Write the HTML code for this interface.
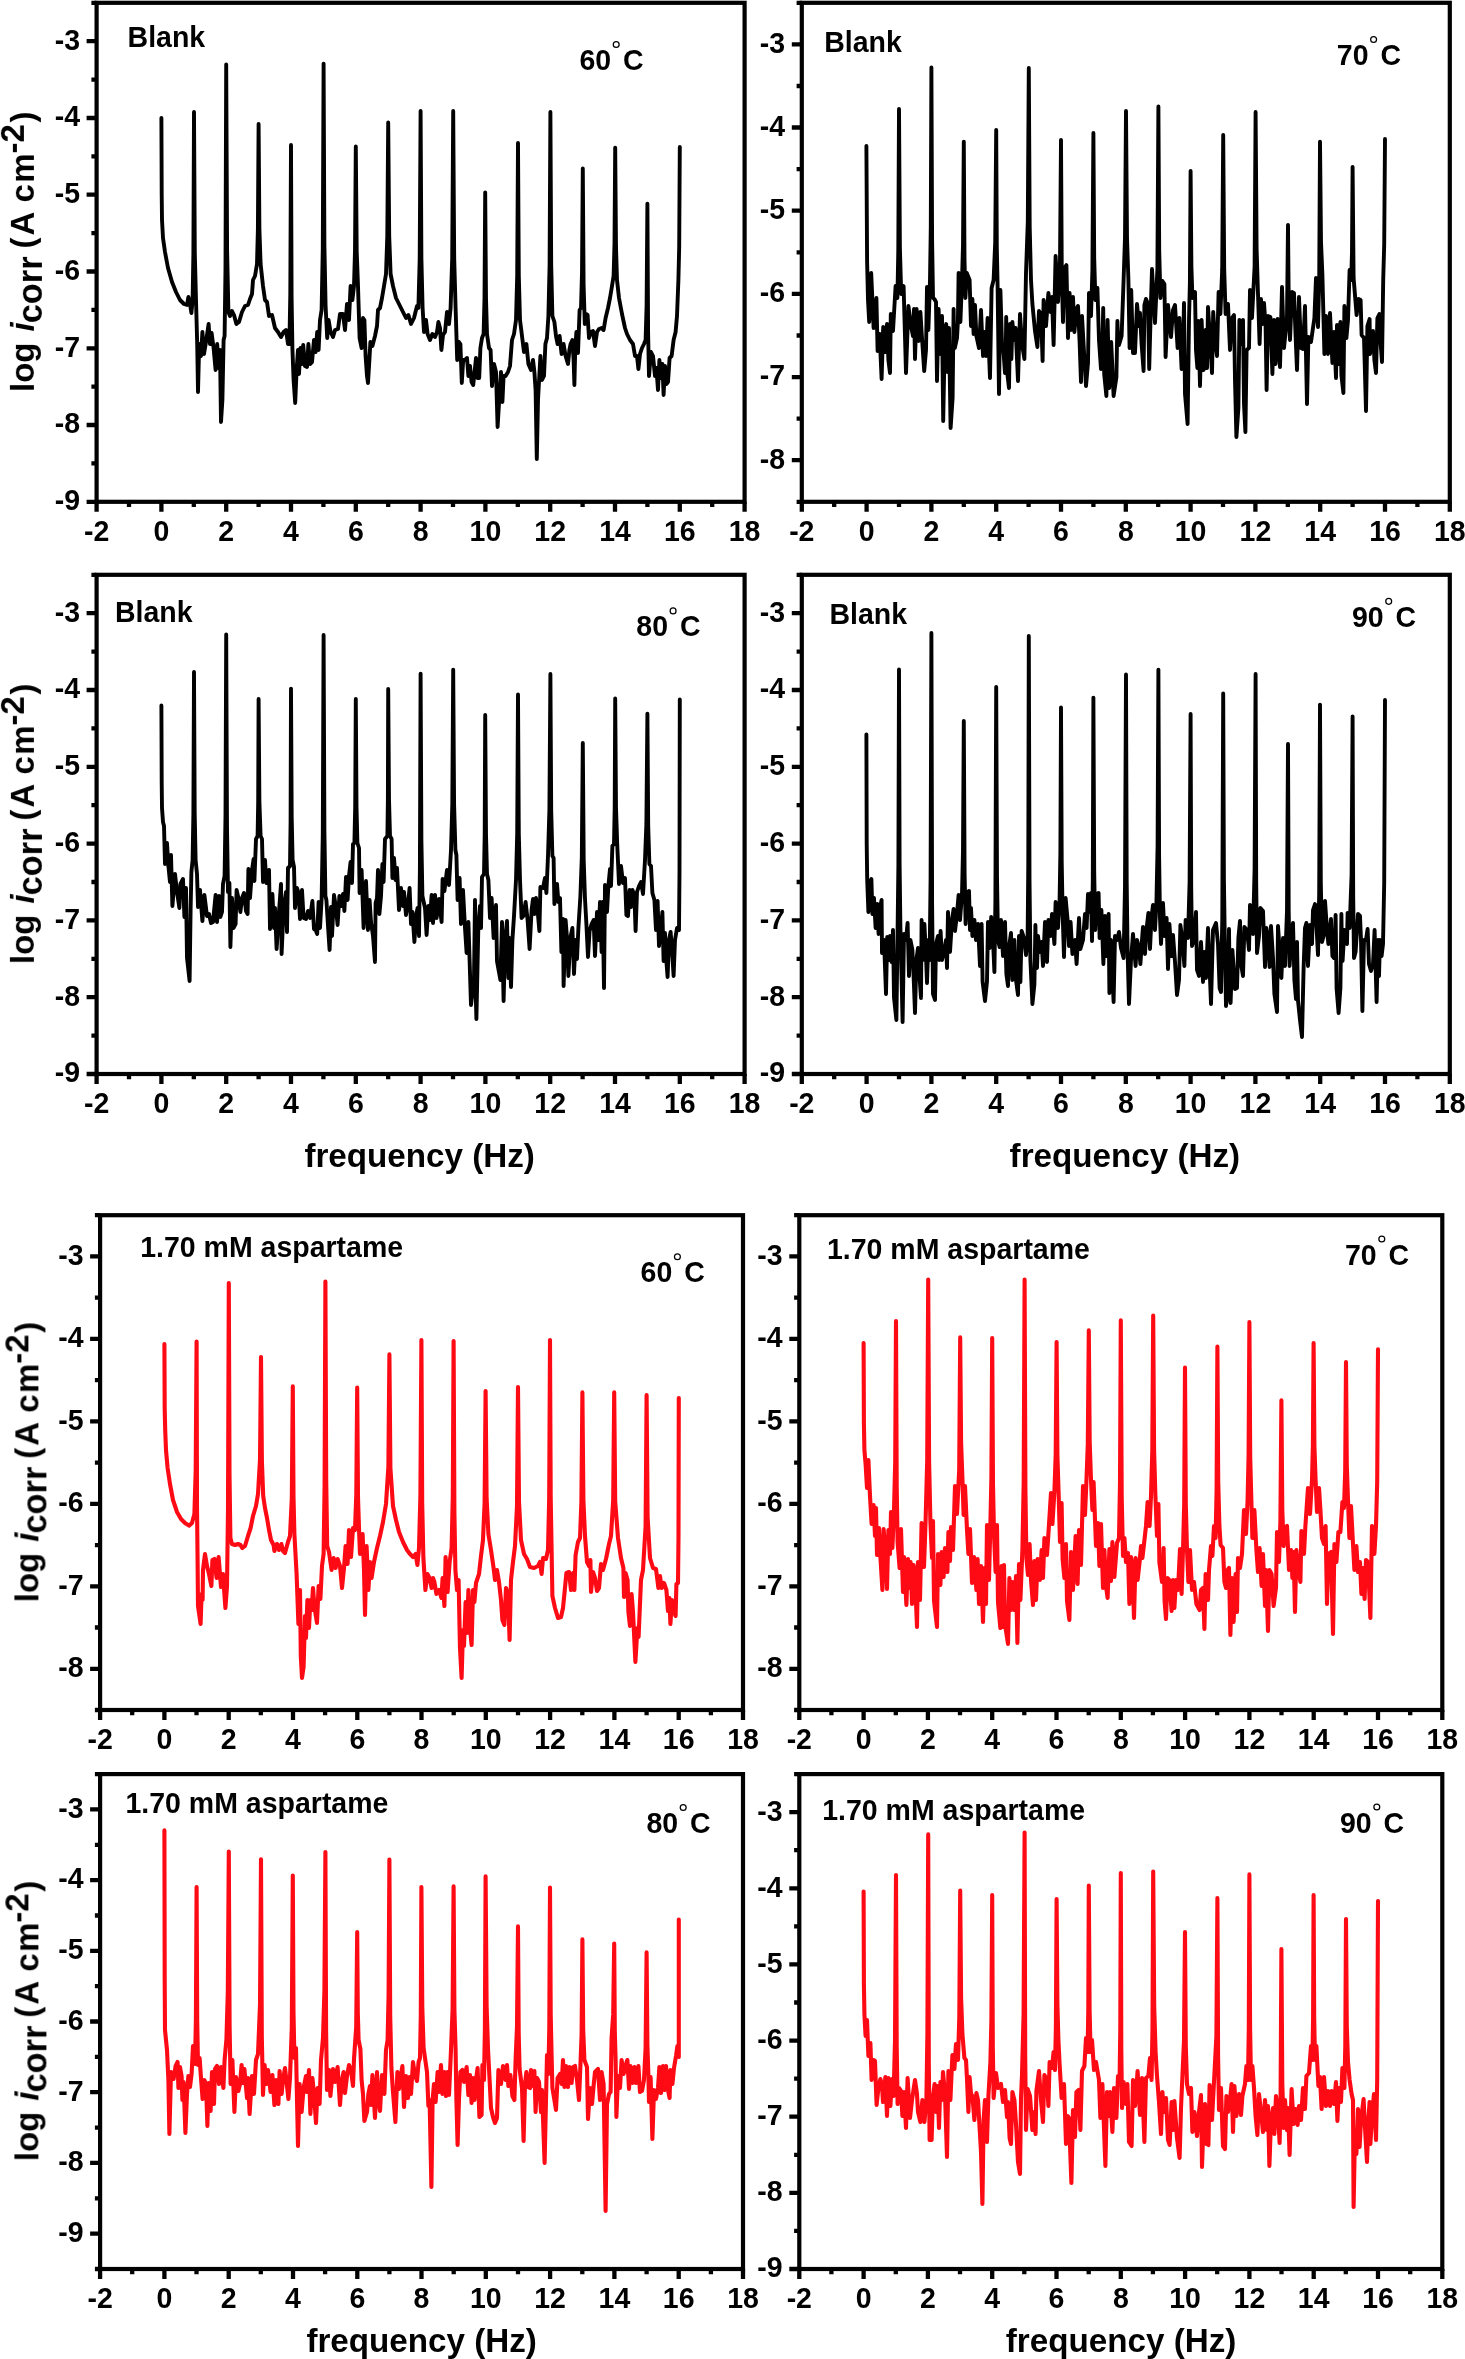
<!DOCTYPE html>
<html><head><meta charset="utf-8"><title>chart</title><style>html,body{margin:0;padding:0;background:#fff}body{width:1465px;height:2359px;overflow:hidden}</style></head><body>
<svg width="1465" height="2359" viewBox="0 0 1465 2359" style="display:block" font-family='"Liberation Sans", sans-serif' font-weight="700" fill="#000">
<rect x="0" y="0" width="1465" height="2359" fill="#fff"/>
<g opacity="0.999"><path d="M161.4,118 L161.7,194.5 L162,220 L163,238 L165,252 L168,268 L172,282 L176,292 L180,300 L184,304 L187,305 L188.4,297 L190,304 L191.4,313 L192.6,300 L193.4,253 L194,112 L194.8,253 L196,300 L197.2,344 L198,392 L199.2,344 L201,356 L202.4,332 L204,354 L206,342 L208.6,324 L210,344 L211.6,333 L213.6,348 L215.6,370 L217.2,344 L218.6,368 L220,350 L221,422 L222.4,400 L223.6,340 L224.6,336 L225.5,268.1 L226.2,64.4 L227.1,250.1 L228.4,312 L230,316 L232,311 L234,315 L236.4,324 L239,322 L242,312 L245,306 L248,305 L250,299 L252,294 L253,280 L255,276 L257,264 L257.9,229 L258.6,124 L259.4,229 L260.6,264 L263,286 L265,300 L267,302 L269,316 L272,315 L275,328 L278,332 L281,337 L283.6,332 L286,330 L288,344 L289.4,344 L290.3,294.2 L291,145 L291.6,297.2 L292.4,348 L293.6,380 L295.2,403 L296.6,370 L298,350 L299,374 L300.4,348 L302,364 L303.2,345 L305,366 L307,367 L308.4,344 L310,364 L312,362 L314,340 L315.6,352 L317.2,332 L318.6,350 L320,320 L321.6,310 L322.8,248.4 L323.6,63.6 L324.4,245.4 L325.6,306 L327.2,338 L328.6,320 L330.6,332 L333,337 L335,330 L338,329 L340,314 L343,314 L345,330 L347,304 L349,320 L350.6,286 L352.4,300 L354,286 L355,251.1 L355.8,146.4 L356.7,251.1 L358,286 L359.6,338 L361.6,348 L363,318 L364.4,320 L365.6,356 L367,376 L368,383 L369.4,360 L370.4,342 L372.4,346 L375,336 L377,326 L378,310 L380,308 L382,298 L384,286 L386,274 L387.3,236.1 L388.2,122.4 L389.2,236.1 L390.6,274 L393,286 L396,298 L400,306 L403,312 L406,318 L408.4,315 L411,324 L414,318 L417,306 L418.4,308 L419.7,258.8 L420.6,111 L421.4,258.8 L422.6,308 L424,332 L426,320 L427.6,334 L430,340 L432.4,334 L435,337 L437,332 L438.4,322 L440,328 L441.4,350 L443,335 L445,332 L447,312 L449,324 L450.6,308 L452.2,258.8 L453.2,111 L454.2,258.8 L455.6,308 L457.2,360 L459,342 L460.4,344 L461.8,383 L463.2,360 L465,360 L467,358 L468.4,376 L470,366 L471.6,382 L473.2,385 L474.6,372 L476,358 L477.6,378 L479.2,378 L480.4,348 L482,338 L483.6,334 L484.5,298.6 L485.2,192.4 L486,298.6 L487,334 L489,348 L490.6,350 L492,386 L494,364 L496,372 L497.6,427 L499.2,400 L501,372 L502.4,402 L503.6,376 L505.6,376 L508,372 L510,366 L512,340 L514,334 L516,320 L517.2,275.8 L518,143 L518.8,275.8 L520,320 L522,336 L524,352 L526.4,344 L528.4,364 L531,370 L533,360 L534.4,372 L535.6,390 L536.8,459 L538,400 L539.2,378 L540.4,356 L542,380 L544,376 L545.4,344 L547,338 L548.4,316 L549.6,265 L550.4,112 L551.2,265 L552.4,316 L554.4,322 L556,336 L557.6,344 L559.6,336 L561.6,354 L563.6,344 L565.6,356 L568,364 L569.4,350 L570.6,344 L572.4,340 L573.6,360 L574.4,385 L575.2,350 L576.4,332 L578,353 L579.6,310 L581,308 L582,273.1 L582.8,168.4 L583.6,285.1 L584.8,324 L586,314 L587.6,315 L589,338 L591,332 L593,331 L595,346 L597,332 L599,329 L601.6,328 L603.6,330 L605.6,318 L608,308 L610,298 L612,286 L613.6,276 L614.5,243.9 L615.2,147.6 L616,246.9 L617,280 L619,298 L622,314 L625,328 L627,334 L630,340 L633,344 L635,356 L637,356 L638.4,369 L640,354 L642,348 L644,344 L645.6,340 L646.6,305.9 L647.4,203.6 L648.1,332.9 L649,376 L651,352 L653,356 L655,376 L656.4,368 L658,390 L659.4,360 L661,378 L662.4,364 L663.6,395 L665,366 L666.6,384 L668,382 L669.6,358 L671.6,356 L673.6,340 L675.6,332 L677,316 L678.4,280 L679.2,246.8 L679.8,147" fill="none" stroke="#000" stroke-width="3.9" stroke-linejoin="round" stroke-linecap="round"/><rect x="96.6" y="2.8" width="648" height="499" fill="none" stroke="#000" stroke-width="4.2"/><path d="M96.6,501.8v10.0M129,501.8v5.2M161.4,501.8v10.0M193.8,501.8v5.2M226.2,501.8v10.0M258.6,501.8v5.2M291,501.8v10.0M323.4,501.8v5.2M355.8,501.8v10.0M388.2,501.8v5.2M420.6,501.8v10.0M453,501.8v5.2M485.4,501.8v10.0M517.8,501.8v5.2M550.2,501.8v10.0M582.6,501.8v5.2M615,501.8v10.0M647.4,501.8v5.2M679.8,501.8v10.0M712.2,501.8v5.2M744.6,501.8v10.0M96.6,2.8h-5.2M96.6,41.2h-10.0M96.6,79.6h-5.2M96.6,118h-10.0M96.6,156.3h-5.2M96.6,194.7h-10.0M96.6,233.1h-5.2M96.6,271.5h-10.0M96.6,309.9h-5.2M96.6,348.3h-10.0M96.6,386.6h-5.2M96.6,425h-10.0M96.6,463.4h-5.2M96.6,501.8h-10.0" stroke="#000" stroke-width="4.3" fill="none"/><text transform="translate(96.6,541) scale(1,1.045)" font-size="28.5" text-anchor="middle">-2</text><text transform="translate(161.4,541) scale(1,1.045)" font-size="28.5" text-anchor="middle">0</text><text transform="translate(226.2,541) scale(1,1.045)" font-size="28.5" text-anchor="middle">2</text><text transform="translate(291,541) scale(1,1.045)" font-size="28.5" text-anchor="middle">4</text><text transform="translate(355.8,541) scale(1,1.045)" font-size="28.5" text-anchor="middle">6</text><text transform="translate(420.6,541) scale(1,1.045)" font-size="28.5" text-anchor="middle">8</text><text transform="translate(485.4,541) scale(1,1.045)" font-size="28.5" text-anchor="middle">10</text><text transform="translate(550.2,541) scale(1,1.045)" font-size="28.5" text-anchor="middle">12</text><text transform="translate(615,541) scale(1,1.045)" font-size="28.5" text-anchor="middle">14</text><text transform="translate(679.8,541) scale(1,1.045)" font-size="28.5" text-anchor="middle">16</text><text transform="translate(744.6,541) scale(1,1.045)" font-size="28.5" text-anchor="middle">18</text><text transform="translate(80,49.5) scale(1,1.045)" font-size="28.5" text-anchor="end">-3</text><text transform="translate(80,126.3) scale(1,1.045)" font-size="28.5" text-anchor="end">-4</text><text transform="translate(80,203) scale(1,1.045)" font-size="28.5" text-anchor="end">-5</text><text transform="translate(80,279.8) scale(1,1.045)" font-size="28.5" text-anchor="end">-6</text><text transform="translate(80,356.6) scale(1,1.045)" font-size="28.5" text-anchor="end">-7</text><text transform="translate(80,433.3) scale(1,1.045)" font-size="28.5" text-anchor="end">-8</text><text transform="translate(80,510.1) scale(1,1.045)" font-size="28.5" text-anchor="end">-9</text><text transform="translate(127.6,46.5) scale(1,1.03)" font-size="28.5">Blank</text><text transform="translate(579.4,70) scale(1,1.045)" font-size="28.5">60</text><circle cx="616.2" cy="44.5" r="2.95" fill="none" stroke="#000" stroke-width="1.25"/><text transform="translate(623,70) scale(1,1.045)" font-size="28.5">C</text><g transform="translate(33.9,392) rotate(-90)"><text x="0" y="0" font-size="33">log</text><text x="60.6" y="0" font-size="33" font-style="italic">i</text><text x="68.7" y="7.7" font-size="34.4">corr</text><text x="143.6" y="0" font-size="33">(</text><text x="156.4" y="0" font-size="33">A</text><text x="189.6" y="0" font-size="33">c</text><text x="209.3" y="0" font-size="33">m</text><text x="238.6" y="-10" font-size="33">-2</text><text x="269.4" y="0" font-size="33">)</text></g></g>
<g opacity="0.999"><path d="M866.4,146 L867.1,261.5 L868,300 L869.2,322 L871.2,273 L873.6,328 L876.4,298 L877.6,351 L879.6,334 L881.6,379 L883.2,327 L885.6,352 L887,324 L888.4,360 L890,373 L890.8,314 L893,331 L895.6,286 L897.4,298 L898.3,250.8 L899,109 L899.9,247.8 L901.2,294 L903.6,286 L906,373 L908.4,306 L911,326 L913,336 L914,309 L915,359 L916.6,309 L918.6,341 L920.4,312 L922,338 L924.2,371 L926,350 L927,287 L927.6,319.2 L928.4,330 L930,280 L930.8,226.8 L931.4,67.4 L932.1,240.3 L933,298 L934.4,299 L936,302 L937,381 L938.6,309 L940.4,354 L942,316 L943.2,421 L945,328 L946.2,324 L947.6,372 L949,328 L950.6,428 L952.6,398.2 L953.6,309 L954.1,338.2 L954.8,348 L957,338 L957.9,321.8 L958.6,273 L959.4,309.8 L960.4,322 L962,280 L963,245.4 L963.8,141.6 L964.5,258.9 L965.4,298 L966.8,273 L969.6,280 L971,326 L972.4,299 L973.6,334 L975,305 L976.4,336 L979,348 L981,310 L983,356 L984.4,332 L986,356 L987.6,318 L990,378 L991.6,288 L993.6,280 L995.2,242.5 L996.2,130 L996.8,247 L997.6,286 L999,394 L1000.4,290 L1002,344 L1003.6,353 L1005,373 L1005.7,359 L1006.2,317 L1006.8,361.2 L1007.6,376 L1009,388 L1010,324 L1011.4,359 L1012.4,322 L1014,340 L1015.6,328 L1018,381 L1020,314 L1022,344 L1024.4,359 L1026,273 L1027.8,221.8 L1028.8,68 L1029.7,227 L1031,280 L1032.4,304 L1035,331 L1037.4,347 L1039,311 L1041,314 L1042.6,361 L1043.6,300 L1046,326 L1048.4,293 L1050.6,312 L1052,297 L1053.6,345 L1055.6,256 L1058,302 L1060,261.5 L1061,140 L1061.8,276.5 L1063,322 L1064.4,268 L1066.4,265 L1068,338 L1069.6,293 L1071,330 L1073,297 L1074.4,332 L1076.4,309 L1078,306 L1079.6,342 L1081,382 L1082,316 L1084,352 L1086,386 L1088,362.8 L1089,293 L1089.8,310.2 L1091,316 L1092.4,270.2 L1093.4,133 L1094.2,258.2 L1095.4,300 L1097.4,288 L1099,340 L1101,369 L1102.3,353.8 L1103.2,308 L1104.2,374 L1106.4,396 L1107.6,320 L1109.2,388 L1111.2,342 L1113.6,396 L1116.4,377.2 L1117.4,321 L1118.1,339 L1119,345 L1121.6,336 L1123.6,280 L1125,237.8 L1126,111 L1127,237.8 L1128.4,280 L1129.6,348 L1131.2,290 L1133,353 L1135,353 L1137,304 L1139,326 L1140,313 L1141.6,344 L1143.6,371 L1144.4,305 L1146,299 L1148,304 L1149.2,369 L1151,302 L1152,269 L1155,323 L1157.4,268.9 L1158.4,106.4 L1159.2,250.1 L1160.4,298 L1162.4,281 L1164.4,284 L1165.6,357 L1168,305 L1171,337 L1173,310 L1175,305 L1177.6,348 L1179.4,318 L1181.6,369 L1183,352.5 L1184,303 L1185,393.8 L1187.6,424 L1189,320 L1189.9,282.8 L1190.6,171 L1191.4,266.2 L1192.4,298 L1195,292 L1196,350 L1197.4,368 L1198.4,321 L1200,386 L1201.6,320 L1203.6,370 L1205.6,330 L1207,368 L1208,307 L1209.6,332 L1212,373 L1213.2,312 L1215,340 L1217,356 L1218.6,292 L1220.4,314 L1222.2,269.2 L1223.2,135 L1224.2,269.2 L1225.6,314 L1228,304 L1230,350 L1232,318 L1234,315 L1235,380 L1236.4,437 L1238.4,407.8 L1239.4,320 L1240.1,338 L1241,344 L1242.2,338 L1243,320 L1244,404 L1245.4,432 L1246.6,350 L1249,348 L1250,290 L1252,318 L1254.6,266.5 L1255.6,112 L1256.6,248.5 L1258,294 L1259.6,344 L1261,299 L1262.4,324 L1264,303 L1265.6,326 L1266.6,390 L1268,316 L1270.4,317 L1272.4,374 L1274,320 L1275.6,364 L1277.6,319 L1280,367 L1282,287 L1284,348 L1287,317.2 L1288,225 L1288.8,311.2 L1290,340 L1292,292 L1294,293 L1295.6,336 L1297,370 L1299,297 L1301,348 L1303,349 L1305,306 L1307,404 L1308.4,337 L1311,342 L1314.4,318 L1316,278 L1318,327 L1319.2,280.6 L1320,141.6 L1321,241.7 L1322.4,275 L1324.4,354 L1326,316 L1328,354 L1330,313 L1332.4,363 L1334,332 L1336,378 L1337,325 L1339,364 L1339.8,353.5 L1340.4,322 L1341.4,375.2 L1343.4,393 L1344.4,306 L1346.4,338 L1348,320 L1349.6,270 L1351.2,280 L1352,251.8 L1352.6,167 L1353.6,278 L1356.6,315 L1358.6,299 L1360.6,300 L1361.6,335 L1364,338 L1366,411 L1367.4,326 L1369.6,319 L1370,354 L1373,331 L1374.4,360 L1376,373 L1377.4,318 L1379.4,314 L1380.4,340 L1382,362 L1383.2,280 L1384.2,244.8 L1385,139" fill="none" stroke="#000" stroke-width="3.9" stroke-linejoin="round" stroke-linecap="round"/><rect x="801.8" y="2.8" width="648" height="499" fill="none" stroke="#000" stroke-width="4.2"/><path d="M801.8,501.8v10.0M834.2,501.8v5.2M866.6,501.8v10.0M899,501.8v5.2M931.4,501.8v10.0M963.8,501.8v5.2M996.2,501.8v10.0M1028.6,501.8v5.2M1061,501.8v10.0M1093.4,501.8v5.2M1125.8,501.8v10.0M1158.2,501.8v5.2M1190.6,501.8v10.0M1223,501.8v5.2M1255.4,501.8v10.0M1287.8,501.8v5.2M1320.2,501.8v10.0M1352.6,501.8v5.2M1385,501.8v10.0M1417.4,501.8v5.2M1449.8,501.8v10.0M801.8,2.8h-5.2M801.8,44.4h-10.0M801.8,86h-5.2M801.8,127.5h-10.0M801.8,169.1h-5.2M801.8,210.7h-10.0M801.8,252.3h-5.2M801.8,293.9h-10.0M801.8,335.5h-5.2M801.8,377.1h-10.0M801.8,418.6h-5.2M801.8,460.2h-10.0M801.8,501.8h-5.2" stroke="#000" stroke-width="4.3" fill="none"/><text transform="translate(801.8,541) scale(1,1.045)" font-size="28.5" text-anchor="middle">-2</text><text transform="translate(866.6,541) scale(1,1.045)" font-size="28.5" text-anchor="middle">0</text><text transform="translate(931.4,541) scale(1,1.045)" font-size="28.5" text-anchor="middle">2</text><text transform="translate(996.2,541) scale(1,1.045)" font-size="28.5" text-anchor="middle">4</text><text transform="translate(1061,541) scale(1,1.045)" font-size="28.5" text-anchor="middle">6</text><text transform="translate(1125.8,541) scale(1,1.045)" font-size="28.5" text-anchor="middle">8</text><text transform="translate(1190.6,541) scale(1,1.045)" font-size="28.5" text-anchor="middle">10</text><text transform="translate(1255.4,541) scale(1,1.045)" font-size="28.5" text-anchor="middle">12</text><text transform="translate(1320.2,541) scale(1,1.045)" font-size="28.5" text-anchor="middle">14</text><text transform="translate(1385,541) scale(1,1.045)" font-size="28.5" text-anchor="middle">16</text><text transform="translate(1449.8,541) scale(1,1.045)" font-size="28.5" text-anchor="middle">18</text><text transform="translate(785.2,52.7) scale(1,1.045)" font-size="28.5" text-anchor="end">-3</text><text transform="translate(785.2,135.8) scale(1,1.045)" font-size="28.5" text-anchor="end">-4</text><text transform="translate(785.2,219) scale(1,1.045)" font-size="28.5" text-anchor="end">-5</text><text transform="translate(785.2,302.2) scale(1,1.045)" font-size="28.5" text-anchor="end">-6</text><text transform="translate(785.2,385.4) scale(1,1.045)" font-size="28.5" text-anchor="end">-7</text><text transform="translate(785.2,468.5) scale(1,1.045)" font-size="28.5" text-anchor="end">-8</text><text transform="translate(824.2,52) scale(1,1.03)" font-size="28.5">Blank</text><text transform="translate(1336.8,65) scale(1,1.045)" font-size="28.5">70</text><circle cx="1373.6" cy="39.5" r="2.95" fill="none" stroke="#000" stroke-width="1.25"/><text transform="translate(1380.4,65) scale(1,1.045)" font-size="28.5">C</text></g>
<g opacity="0.999"><path d="M161.4,705.4 L161.7,782.4 L162,808 L163,822 L164,826 L165,864 L167,843 L168.4,866 L170,882 L171,855 L172.4,906 L175,874 L177,892 L179.4,908 L180.4,884 L183,879 L184.4,917 L185.3,909.8 L186,888 L187,957.8 L189.6,981 L190.6,910 L191.4,872 L192.6,860 L193.4,813 L194,672 L194.7,813 L195.6,860 L197,874 L198,907 L200,890 L202.4,921 L204.4,895 L207,916 L209,914 L211,923 L213,922 L215.6,895 L217,922 L219,896 L220.4,917 L222,912 L223,884 L224.6,876 L225.5,815.6 L226.2,634.4 L227,827.6 L228,892 L229.4,883 L230.4,947 L232,898 L233.6,928 L235.6,924 L236.6,890 L238.4,898 L240.4,912 L242,898 L244,893 L246,911 L247.6,914 L248.4,869 L250,898 L252,870 L253.6,859 L254.4,881 L256,839 L257.6,836 L258.2,801.8 L258.6,699 L259.4,801.8 L260.6,836 L262,839 L263,882 L265,860 L266.4,883 L269,870 L270,929 L272.4,894 L274,928 L275,908 L276.6,949 L279,912 L281,884 L281.6,954 L283.6,908 L286,892 L287,932 L288,868 L290,866 L290.6,821.6 L291,688.6 L291.7,817.1 L292.6,860 L294,867 L295,908 L297,888 L298.6,893 L300,919 L302,890 L303.6,918 L306,919 L308,911 L310,918 L312.4,901 L314,929 L315.6,930 L317.2,934 L318.6,902 L320,928 L321.6,900 L322.8,833.8 L323.6,635 L324.4,830.8 L325.4,896 L326.4,900 L328,926 L329.6,950 L331,907 L332,936 L334,895 L336,908 L337.6,925 L339.4,896 L341.4,906 L343,894 L344.4,911 L346,877 L347.6,900 L349,876 L350.6,862 L352,883 L353,844 L354.4,843 L355.2,807 L355.8,699 L356.5,807 L357.4,843 L359,848 L359.6,893 L361.6,870 L363.6,928 L366,881 L368,930 L369.6,900 L371,922 L373,936 L375,962 L375.6,903 L377,898 L378,870 L379.4,914 L381,896 L382.4,864 L383.6,882 L385,839 L387.4,836 L387.9,799.2 L388.2,689 L389,799.2 L390,836 L391.6,839 L392.4,878 L394,858 L395.6,880 L397,868 L399,910 L401,888 L403,906 L404,892 L406,915 L408,904 L409.6,888 L411,924 L412.4,912 L414.4,942 L416,916 L417.6,908 L419,936 L419.9,870.4 L420.6,673.6 L421.4,840.4 L422.4,896 L425,908 L426.6,935 L428.4,906 L430,920 L431.6,895 L433,923 L435,895 L436.6,918 L439,899 L441.6,922 L442.6,879 L444.4,891 L447,870 L449,885 L451,850 L452.3,804.9 L453.2,669.6 L454.1,804.9 L455.4,850 L456.4,855 L457.6,900 L459.6,878 L461,924 L463,890 L465,928 L466.6,953 L468.4,922 L471,1005 L474,978.8 L475,900 L475.6,989.2 L476.4,1019 L478.4,924 L480,906 L481,928 L482,877 L484,874 L484.7,834.2 L485.2,715 L486,834.2 L487,874 L488.4,880 L490,918 L491.6,898 L493.6,938 L495,929.8 L496,905 L497,961.2 L500.4,980 L502,922 L503.6,1001 L505.2,940 L507,921 L508.4,978 L509.4,938 L511,987 L512.4,940 L514,916 L516,880 L517.2,833.6 L518,694.4 L518.8,833.6 L520,880 L521.6,918 L523.4,916 L525.6,902 L527.6,920 L529.6,949 L531.6,910 L533,899 L534.4,914 L536,898 L538,915 L539.4,931 L540.4,887 L543,888 L545,878 L546.4,893 L548,856 L549.4,810.5 L550.4,674 L551.2,810.5 L552.4,856 L553.6,858 L554.4,904 L557,884 L558.4,902 L560,898 L561.4,952 L563,919 L563.6,986 L565.6,920 L567,938 L568.4,976 L570.4,938 L572.4,928 L574,974 L575.6,940 L577,959 L578.4,928 L580.4,896 L581.8,857.8 L582.8,743 L583.7,860 L585,899 L586.4,924 L588,957 L589.6,931 L591.6,924 L593.6,920 L595,956 L597,912 L598.4,940 L600,902 L601.6,952 L602.6,902 L604,988 L605,885 L607,912 L608.4,886 L610,869 L611,886 L612.4,846 L614,844 L614.7,807.6 L615.2,698.4 L616,807.6 L617.2,844 L619,884 L621,866 L623,883 L625,878 L626.4,915 L628,916 L629.6,890 L631,907 L632.4,890 L634.4,895 L635.6,931 L637,892 L639,886 L641,882 L643,894 L645,860 L646.4,823.4 L647.4,713.6 L648.2,826.4 L649.4,864 L651,866 L652.4,893 L654.4,900 L656,930 L657.6,901 L659,946 L661,928 L662.4,912 L663.6,961 L665,933 L666,956 L667.6,977 L669,940 L670.6,932 L672.4,956 L673.6,976 L675,940 L677,928 L679,930 L679.5,872.4 L679.8,699.4" fill="none" stroke="#000" stroke-width="3.9" stroke-linejoin="round" stroke-linecap="round"/><rect x="96.6" y="574.8" width="648" height="499.2" fill="none" stroke="#000" stroke-width="4.2"/><path d="M96.6,1074v10.0M129,1074v5.2M161.4,1074v10.0M193.8,1074v5.2M226.2,1074v10.0M258.6,1074v5.2M291,1074v10.0M323.4,1074v5.2M355.8,1074v10.0M388.2,1074v5.2M420.6,1074v10.0M453,1074v5.2M485.4,1074v10.0M517.8,1074v5.2M550.2,1074v10.0M582.6,1074v5.2M615,1074v10.0M647.4,1074v5.2M679.8,1074v10.0M712.2,1074v5.2M744.6,1074v10.0M96.6,574.8h-5.2M96.6,613.2h-10.0M96.6,651.6h-5.2M96.6,690h-10.0M96.6,728.4h-5.2M96.6,766.8h-10.0M96.6,805.2h-5.2M96.6,843.6h-10.0M96.6,882h-5.2M96.6,920.4h-10.0M96.6,958.8h-5.2M96.6,997.2h-10.0M96.6,1035.6h-5.2M96.6,1074h-10.0" stroke="#000" stroke-width="4.3" fill="none"/><text transform="translate(96.6,1113.2) scale(1,1.045)" font-size="28.5" text-anchor="middle">-2</text><text transform="translate(161.4,1113.2) scale(1,1.045)" font-size="28.5" text-anchor="middle">0</text><text transform="translate(226.2,1113.2) scale(1,1.045)" font-size="28.5" text-anchor="middle">2</text><text transform="translate(291,1113.2) scale(1,1.045)" font-size="28.5" text-anchor="middle">4</text><text transform="translate(355.8,1113.2) scale(1,1.045)" font-size="28.5" text-anchor="middle">6</text><text transform="translate(420.6,1113.2) scale(1,1.045)" font-size="28.5" text-anchor="middle">8</text><text transform="translate(485.4,1113.2) scale(1,1.045)" font-size="28.5" text-anchor="middle">10</text><text transform="translate(550.2,1113.2) scale(1,1.045)" font-size="28.5" text-anchor="middle">12</text><text transform="translate(615,1113.2) scale(1,1.045)" font-size="28.5" text-anchor="middle">14</text><text transform="translate(679.8,1113.2) scale(1,1.045)" font-size="28.5" text-anchor="middle">16</text><text transform="translate(744.6,1113.2) scale(1,1.045)" font-size="28.5" text-anchor="middle">18</text><text transform="translate(80,621.5) scale(1,1.045)" font-size="28.5" text-anchor="end">-3</text><text transform="translate(80,698.3) scale(1,1.045)" font-size="28.5" text-anchor="end">-4</text><text transform="translate(80,775.1) scale(1,1.045)" font-size="28.5" text-anchor="end">-5</text><text transform="translate(80,851.9) scale(1,1.045)" font-size="28.5" text-anchor="end">-6</text><text transform="translate(80,928.7) scale(1,1.045)" font-size="28.5" text-anchor="end">-7</text><text transform="translate(80,1005.5) scale(1,1.045)" font-size="28.5" text-anchor="end">-8</text><text transform="translate(80,1082.3) scale(1,1.045)" font-size="28.5" text-anchor="end">-9</text><text transform="translate(115,622) scale(1,1.03)" font-size="28.5">Blank</text><text transform="translate(636.3,636.4) scale(1,1.045)" font-size="28.5">80</text><circle cx="673.1" cy="610.9" r="2.95" fill="none" stroke="#000" stroke-width="1.25"/><text transform="translate(679.9,636.4) scale(1,1.045)" font-size="28.5">C</text><text x="304.4" y="1167" font-size="33.2">frequency (Hz)</text><g transform="translate(33.9,964.1) rotate(-90)"><text x="0" y="0" font-size="33">log</text><text x="60.6" y="0" font-size="33" font-style="italic">i</text><text x="68.7" y="7.7" font-size="34.4">corr</text><text x="143.6" y="0" font-size="33">(</text><text x="156.4" y="0" font-size="33">A</text><text x="189.6" y="0" font-size="33">c</text><text x="209.3" y="0" font-size="33">m</text><text x="238.6" y="-10" font-size="33">-2</text><text x="269.4" y="0" font-size="33">)</text></g></g>
<g opacity="0.999"><path d="M866.4,734.4 L866.7,843.6 L867.2,880 L868.4,912 L869.4,884 L871.4,879 L872.4,914 L874,898 L875.6,928 L877.2,904 L878.6,934 L880,908 L881.6,900 L882,953 L884,940 L886,994 L887.2,937 L889,960 L890,936 L891.6,962 L892.4,954 L893,930 L894,997.5 L896.4,1020 L897.6,930 L898.4,864.9 L899,669.4 L899.6,863.4 L900.4,928 L902.6,1022 L904,934 L906,940 L907.6,923 L909,976 L910.4,940 L912.4,950 L913.6,976 L915,1013 L916.4,960 L918,948 L919.6,978 L921,998 L921.6,920 L923,960 L924.4,924 L926,956 L927,983 L928.4,940 L929.6,960 L930.6,878.2 L931.4,633 L932.1,903.8 L933,994 L935,1000 L936,944 L938,936 L939.4,960 L940.6,931 L942,960 L944,952 L946,940 L947,968 L948,912 L950,952 L952,920 L953.6,909 L955,931 L957,914 L958.6,895 L960,920 L962,894 L963,850.8 L963.8,721 L964.6,873.2 L965.6,924 L967,893 L969,891 L970,930 L971,908 L972.4,936 L974.4,920 L976,940 L978,924 L980,966 L980.9,955.5 L981.6,924 L982.6,981.8 L985,1001 L987,981.2 L988,922 L988.7,941.5 L989.6,948 L991.2,917 L993,940 L994.4,972 L995.4,900.8 L996.2,687 L997,876.8 L998,940 L999.6,947 L1001,920 L1003,956 L1005,922 L1006.4,974 L1008,986 L1009.4,944 L1011,933 L1012.4,980 L1014.4,940 L1015.6,977 L1018,995 L1019,936 L1020.4,982 L1021.6,931 L1024,938 L1026,955 L1027.6,940 L1028.3,864 L1028.8,636 L1029.5,879 L1030.4,960 L1032.4,1004 L1034.4,984.2 L1035.4,925 L1036.1,957.2 L1037,968 L1038,936 L1040,952 L1041.6,942 L1043,966 L1045,922 L1047,962 L1048.4,920 L1050.6,936 L1052,914 L1054.4,944 L1055.6,902 L1058,928 L1059.6,900 L1060.4,851.9 L1061,707.4 L1061.7,860.9 L1062.6,912 L1064,957 L1065.6,898 L1067.6,920 L1069,946 L1070.6,922 L1072.4,954 L1075,940 L1076.6,964 L1079,918 L1080.4,949 L1083,940 L1085,914 L1086.6,928 L1088,894 L1089.6,912 L1091,893 L1092,941 L1092.8,880.1 L1093.4,697.6 L1094.2,871.9 L1095.2,930 L1096.6,894 L1098.6,893 L1099.6,938 L1101.4,910 L1103.4,964 L1105,916 L1106.6,956 L1108.6,914 L1109.4,993 L1111,940 L1113.6,1002 L1115,936 L1117,940 L1119,932 L1121,948 L1123.6,958 L1125,887.1 L1126,674.4 L1126.7,882.6 L1127.6,952 L1129,1004 L1131,960 L1133,934 L1135.6,966 L1137,940 L1139,948 L1140.4,964 L1142,940 L1143,927 L1145,954 L1146.4,930 L1148.4,913 L1150,949 L1151.6,916 L1153,905 L1155,930 L1156.4,904 L1157.6,845.4 L1158.4,669.6 L1159.1,855.9 L1160,918 L1161,944 L1163,903 L1164.6,936 L1166.6,918 L1168,969 L1169.4,924 L1171.6,956 L1173,935 L1175,962 L1177,995 L1179,980 L1180.4,925 L1182.4,940 L1184.4,966 L1185.6,920 L1188,938 L1189.6,882 L1190.6,714 L1191.2,888 L1192,946 L1194,940 L1196,912 L1197,970 L1199,976 L1201,942 L1203,982 L1204.4,952 L1206,978 L1208,928 L1211,1004 L1213,930 L1216,923 L1218,944 L1219.6,988 L1221,992 L1222.3,917.4 L1223.2,693.4 L1223.9,878.4 L1224.8,940 L1226,1006 L1228,986.8 L1229,929 L1229.7,984.5 L1230.6,1003 L1232.4,950 L1235,989 L1237,988 L1238.4,938 L1240,921 L1241,964 L1243,976 L1244.4,927 L1247,930 L1249,950 L1250,905 L1252,908 L1253,934 L1254.6,869 L1255.6,674 L1256.2,883.2 L1257,953 L1259,936 L1260.4,908 L1263,911 L1265,967 L1266.4,928 L1268,938 L1269.6,967 L1271,926 L1273,958 L1274.4,994 L1277,1012 L1278,926 L1280,956 L1281.4,978 L1283,938 L1285,966 L1287,910.5 L1288,744 L1288.7,910.5 L1289.6,966 L1291,940 L1293,923 L1294.4,980 L1296,999 L1296.6,984.8 L1297,942 L1298,1000.5 L1300,1020 L1302,1037 L1303.6,968 L1305,928 L1306.4,923 L1308,966 L1310,925 L1312,944 L1313,910 L1315,904 L1316.6,928 L1318,955 L1319.2,892.4 L1320,704.6 L1320.8,882.6 L1322,942 L1323.6,936 L1325,901 L1327,930 L1328.4,944 L1331,919 L1332.4,956 L1334,958 L1334.9,947.2 L1335.6,915 L1336.6,988.5 L1338.6,1013 L1340.4,988.2 L1341.4,914 L1341.9,949.2 L1342.6,961 L1344.4,930 L1347,944 L1347.6,913 L1349.6,928 L1351.6,875.1 L1352.6,716.4 L1353.2,897.6 L1354,958 L1355.6,952 L1358,914 L1360,916 L1361,940 L1362.4,1011 L1364,940 L1366,940 L1367.6,929 L1369,964 L1371,971 L1373,964 L1374.6,930 L1376.6,1002 L1378,940 L1379,976 L1380,940 L1381.6,956 L1383,944 L1384.2,883 L1385,700" fill="none" stroke="#000" stroke-width="3.9" stroke-linejoin="round" stroke-linecap="round"/><rect x="801.8" y="574.8" width="648" height="499.2" fill="none" stroke="#000" stroke-width="4.2"/><path d="M801.8,1074v10.0M834.2,1074v5.2M866.6,1074v10.0M899,1074v5.2M931.4,1074v10.0M963.8,1074v5.2M996.2,1074v10.0M1028.6,1074v5.2M1061,1074v10.0M1093.4,1074v5.2M1125.8,1074v10.0M1158.2,1074v5.2M1190.6,1074v10.0M1223,1074v5.2M1255.4,1074v10.0M1287.8,1074v5.2M1320.2,1074v10.0M1352.6,1074v5.2M1385,1074v10.0M1417.4,1074v5.2M1449.8,1074v10.0M801.8,574.8h-5.2M801.8,613.2h-10.0M801.8,651.6h-5.2M801.8,690h-10.0M801.8,728.4h-5.2M801.8,766.8h-10.0M801.8,805.2h-5.2M801.8,843.6h-10.0M801.8,882h-5.2M801.8,920.4h-10.0M801.8,958.8h-5.2M801.8,997.2h-10.0M801.8,1035.6h-5.2M801.8,1074h-10.0" stroke="#000" stroke-width="4.3" fill="none"/><text transform="translate(801.8,1113.2) scale(1,1.045)" font-size="28.5" text-anchor="middle">-2</text><text transform="translate(866.6,1113.2) scale(1,1.045)" font-size="28.5" text-anchor="middle">0</text><text transform="translate(931.4,1113.2) scale(1,1.045)" font-size="28.5" text-anchor="middle">2</text><text transform="translate(996.2,1113.2) scale(1,1.045)" font-size="28.5" text-anchor="middle">4</text><text transform="translate(1061,1113.2) scale(1,1.045)" font-size="28.5" text-anchor="middle">6</text><text transform="translate(1125.8,1113.2) scale(1,1.045)" font-size="28.5" text-anchor="middle">8</text><text transform="translate(1190.6,1113.2) scale(1,1.045)" font-size="28.5" text-anchor="middle">10</text><text transform="translate(1255.4,1113.2) scale(1,1.045)" font-size="28.5" text-anchor="middle">12</text><text transform="translate(1320.2,1113.2) scale(1,1.045)" font-size="28.5" text-anchor="middle">14</text><text transform="translate(1385,1113.2) scale(1,1.045)" font-size="28.5" text-anchor="middle">16</text><text transform="translate(1449.8,1113.2) scale(1,1.045)" font-size="28.5" text-anchor="middle">18</text><text transform="translate(785.2,621.5) scale(1,1.045)" font-size="28.5" text-anchor="end">-3</text><text transform="translate(785.2,698.3) scale(1,1.045)" font-size="28.5" text-anchor="end">-4</text><text transform="translate(785.2,775.1) scale(1,1.045)" font-size="28.5" text-anchor="end">-5</text><text transform="translate(785.2,851.9) scale(1,1.045)" font-size="28.5" text-anchor="end">-6</text><text transform="translate(785.2,928.7) scale(1,1.045)" font-size="28.5" text-anchor="end">-7</text><text transform="translate(785.2,1005.5) scale(1,1.045)" font-size="28.5" text-anchor="end">-8</text><text transform="translate(785.2,1082.3) scale(1,1.045)" font-size="28.5" text-anchor="end">-9</text><text transform="translate(829.5,624) scale(1,1.03)" font-size="28.5">Blank</text><text transform="translate(1351.9,626.8) scale(1,1.045)" font-size="28.5">90</text><circle cx="1388.7" cy="601.3" r="2.95" fill="none" stroke="#000" stroke-width="1.25"/><text transform="translate(1395.5,626.8) scale(1,1.045)" font-size="28.5">C</text><text x="1009.6" y="1167" font-size="33.2">frequency (Hz)</text></g>
<g opacity="0.999"><path d="M164.4,1344 L164.7,1408.5 L165.2,1430 L166,1450 L167.6,1468 L170,1484 L173,1500 L177,1512 L181,1519 L185,1523 L189,1525.6 L192,1523 L194.4,1514 L195.7,1470.9 L196.6,1341.6 L197,1506.9 L197.6,1562 L198,1606 L200.6,1624 L201.6,1594 L202.6,1600 L203,1570 L205,1554 L207,1566 L209,1574 L211.4,1586 L212.4,1560 L214.4,1559 L216.6,1578 L218.6,1557 L221,1587 L223,1574 L225.4,1608 L227,1586 L228,1510.2 L228.8,1283 L229.5,1474.2 L230.4,1538 L232,1544 L235,1545 L238,1544 L240.4,1545 L242.4,1548 L245,1546 L248,1536 L250.6,1528 L253,1516 L256,1506 L258,1494 L260,1459.8 L261,1357 L261.9,1461.2 L263.2,1496 L265,1508 L267,1518 L269,1530 L271,1540 L273.6,1545 L274.4,1551 L277,1544 L279,1550 L281.4,1544 L283,1551 L285,1553 L288,1542 L290,1536 L291.8,1498.6 L292.8,1386.4 L293.5,1497.1 L294.4,1534 L296.6,1574 L298.4,1624 L299.3,1615.5 L300,1590 L300.8,1656 L302,1678 L303.6,1667 L305,1616 L306,1638 L307.4,1600 L309,1628 L310.4,1600 L311.6,1610 L313,1588 L314.6,1608 L317,1623 L318.6,1586 L320.4,1599 L322,1566 L323.6,1554 L324.6,1485.9 L325.4,1281.6 L326.2,1479.9 L327.2,1546 L329,1552 L331.6,1570 L333.6,1558 L335.6,1568 L337.6,1559 L340,1566 L342,1588 L344,1568 L345.6,1546 L347.6,1564 L349,1530 L351,1557 L353,1528 L355,1530 L356.3,1494.4 L357.2,1387.6 L358,1497.4 L359.2,1534 L360,1554 L362.6,1534 L364,1570 L365,1615 L366.6,1546 L368.4,1590 L370,1562 L371.6,1578 L374,1562 L377,1548 L380,1536 L383,1522 L386,1504 L388.4,1466.6 L389.4,1354.4 L390.4,1468.1 L393,1506 L396,1520 L399,1532 L403,1542 L407,1550 L410,1554 L413,1557 L415.6,1554 L417.4,1565 L419,1548 L420.4,1496 L421.4,1340 L422.2,1503.5 L423.4,1558 L425.4,1590 L427.4,1574 L429.6,1578 L431.6,1588 L433,1578 L434.4,1582 L436.4,1594 L439,1590 L441.4,1598 L442.6,1578 L444.4,1606 L445.6,1557 L447.6,1592 L449.6,1562 L451.6,1548 L452.8,1496.2 L453.6,1341 L454.4,1512.8 L455.4,1570 L457,1590 L458.6,1580 L460,1648 L461.6,1678 L463,1630 L464,1646 L465.6,1602 L467,1633 L468.4,1590 L470,1628 L471.6,1645 L473,1590 L474.4,1602 L476,1583 L479,1574 L481,1556 L483,1540 L484.6,1502.8 L485.6,1391 L486.6,1498.2 L488.4,1534 L491,1550 L493.6,1568 L495,1580 L497,1570 L499,1582 L501,1600 L502.4,1620 L504.4,1625 L506,1588 L508,1594 L509.6,1640 L511,1580 L513,1562 L515,1546 L517,1506.2 L518,1387 L519,1501.8 L521,1540 L524,1554 L527,1559 L530,1567 L534,1568 L538,1566 L540,1562 L541.6,1574 L543,1558 L546,1559 L548,1550 L549.2,1497.5 L550,1340 L550.7,1497.5 L551.6,1550 L552.4,1596 L555,1608 L558,1618 L561,1617 L563,1608 L564.4,1594 L566.4,1573 L569,1572 L571,1590 L573,1573 L574.4,1590 L575.6,1555 L578,1542 L580,1538 L581.4,1501.6 L582.4,1392.4 L583.4,1500.1 L585,1536 L587,1562 L589,1566 L590.4,1560 L591,1592 L593,1572 L595,1578 L597,1591 L599,1588 L601,1564 L603,1570 L606,1559 L609,1544 L611,1536 L613.2,1500.1 L614.2,1392.4 L615.2,1501.6 L618,1538 L621,1558 L623.4,1568 L624,1597 L625.6,1573 L627.6,1580 L628.4,1612 L630,1626 L631.6,1594 L633,1612 L635.4,1662 L637.4,1628 L638.6,1637 L641,1580 L643,1570 L645.6,1526.2 L646.6,1395 L647.6,1517.2 L650,1558 L653,1568 L656,1569 L658.4,1588 L660,1576 L661.6,1588 L664,1583 L666.4,1590 L668,1611 L669.4,1598 L670.4,1624 L672,1600 L673.6,1610 L675.6,1616 L676.4,1584 L678,1583 L678.5,1536.8 L678.8,1398" fill="none" stroke="#fe0a14" stroke-width="4.1" stroke-linejoin="round" stroke-linecap="round"/><rect x="100.1" y="1215.2" width="642.9" height="494.8" fill="none" stroke="#000" stroke-width="4.2"/><path d="M100.1,1710v10.0M132.2,1710v5.2M164.4,1710v10.0M196.5,1710v5.2M228.7,1710v10.0M260.8,1710v5.2M293,1710v10.0M325.1,1710v5.2M357.3,1710v10.0M389.4,1710v5.2M421.5,1710v10.0M453.7,1710v5.2M485.8,1710v10.0M518,1710v5.2M550.1,1710v10.0M582.3,1710v5.2M614.4,1710v10.0M646.6,1710v5.2M678.7,1710v10.0M710.9,1710v5.2M743,1710v10.0M100.1,1215.2h-5.2M100.1,1256.4h-10.0M100.1,1297.7h-5.2M100.1,1338.9h-10.0M100.1,1380.1h-5.2M100.1,1421.4h-10.0M100.1,1462.6h-5.2M100.1,1503.8h-10.0M100.1,1545.1h-5.2M100.1,1586.3h-10.0M100.1,1627.5h-5.2M100.1,1668.8h-10.0M100.1,1710h-5.2" stroke="#000" stroke-width="4.3" fill="none"/><text transform="translate(100.1,1749.2) scale(1,1.045)" font-size="28.5" text-anchor="middle">-2</text><text transform="translate(164.4,1749.2) scale(1,1.045)" font-size="28.5" text-anchor="middle">0</text><text transform="translate(228.7,1749.2) scale(1,1.045)" font-size="28.5" text-anchor="middle">2</text><text transform="translate(293,1749.2) scale(1,1.045)" font-size="28.5" text-anchor="middle">4</text><text transform="translate(357.3,1749.2) scale(1,1.045)" font-size="28.5" text-anchor="middle">6</text><text transform="translate(421.5,1749.2) scale(1,1.045)" font-size="28.5" text-anchor="middle">8</text><text transform="translate(485.8,1749.2) scale(1,1.045)" font-size="28.5" text-anchor="middle">10</text><text transform="translate(550.1,1749.2) scale(1,1.045)" font-size="28.5" text-anchor="middle">12</text><text transform="translate(614.4,1749.2) scale(1,1.045)" font-size="28.5" text-anchor="middle">14</text><text transform="translate(678.7,1749.2) scale(1,1.045)" font-size="28.5" text-anchor="middle">16</text><text transform="translate(743,1749.2) scale(1,1.045)" font-size="28.5" text-anchor="middle">18</text><text transform="translate(83.5,1264.7) scale(1,1.045)" font-size="28.5" text-anchor="end">-3</text><text transform="translate(83.5,1347.2) scale(1,1.045)" font-size="28.5" text-anchor="end">-4</text><text transform="translate(83.5,1429.7) scale(1,1.045)" font-size="28.5" text-anchor="end">-5</text><text transform="translate(83.5,1512.1) scale(1,1.045)" font-size="28.5" text-anchor="end">-6</text><text transform="translate(83.5,1594.6) scale(1,1.045)" font-size="28.5" text-anchor="end">-7</text><text transform="translate(83.5,1677.1) scale(1,1.045)" font-size="28.5" text-anchor="end">-8</text><text transform="translate(140.2,1257.4) scale(1,1.03)" font-size="28.5">1.70 mM aspartame</text><text transform="translate(640.6,1282.2) scale(1,1.045)" font-size="28.5">60</text><circle cx="677.4" cy="1256.7" r="2.95" fill="none" stroke="#000" stroke-width="1.25"/><text transform="translate(684.2,1282.2) scale(1,1.045)" font-size="28.5">C</text><g transform="translate(38.4,1602.3) rotate(-90)"><text x="0" y="0" font-size="33">log</text><text x="60.6" y="0" font-size="33" font-style="italic">i</text><text x="68.7" y="7.7" font-size="34.4">corr</text><text x="143.6" y="0" font-size="33">(</text><text x="156.4" y="0" font-size="33">A</text><text x="189.6" y="0" font-size="33">c</text><text x="209.3" y="0" font-size="33">m</text><text x="238.6" y="-10" font-size="33">-2</text><text x="269.4" y="0" font-size="33">)</text></g></g>
<g opacity="0.999"><path d="M863.6,1343 L863.9,1423.2 L864.4,1450 L865.6,1464 L867,1488 L868.4,1460 L870,1496 L871.6,1524 L873.6,1505 L875,1536 L876,1508 L877,1555 L879,1528 L880.4,1557 L882.4,1590 L883.6,1529 L885.6,1554 L887,1589 L888.4,1530 L890,1554 L891,1512 L892.4,1548 L894,1510 L895.2,1462.8 L896,1321 L896.7,1486.8 L897.6,1542 L899.6,1568 L901,1529 L903,1592 L904,1557 L906.4,1605 L908,1559 L909.4,1588 L910.6,1562 L912,1604 L913.6,1565 L915,1578 L917,1627 L918,1562 L920,1600 L921.6,1523 L924,1567 L925.6,1521 L927.2,1460.7 L928.2,1279.6 L929.1,1461.4 L930.4,1522 L932,1558 L932.6,1548.8 L933,1521 L934,1600.5 L937,1627 L938,1554 L940.4,1585 L941.6,1552 L943.6,1577 L945,1548 L947.4,1572 L948.4,1532 L950,1561 L951,1527 L953,1550 L955,1486 L957,1514 L959.2,1469.8 L960.2,1337.4 L961.1,1442.8 L962.4,1478 L963.6,1515 L965,1486 L967,1530 L968.4,1554 L970,1529 L972,1583 L974,1557 L976.4,1590 L977.6,1559 L979,1604 L981,1566 L983,1622 L984.4,1568 L986,1604 L987,1525 L989,1580 L990.4,1524 L991.4,1477.5 L992.2,1338 L993,1485 L994,1534 L995.6,1572 L996.4,1560.2 L997,1525 L998,1602.2 L1000.4,1628 L1001.6,1566 L1003,1627 L1003.6,1611.5 L1004,1565 L1005,1624.2 L1008,1644 L1009.4,1578 L1011,1610 L1012.4,1582 L1014.4,1610 L1016,1576 L1017.4,1643 L1019,1564 L1020.4,1600 L1022.4,1550 L1023.7,1482.4 L1024.6,1279.6 L1025.4,1488.4 L1026.4,1558 L1028,1575 L1029.6,1544 L1031,1580 L1033,1605 L1034.4,1561 L1036,1600 L1037.6,1559 L1040,1580 L1041.6,1550 L1043,1578 L1044.4,1538 L1047,1555 L1048.4,1534 L1051,1493 L1052.4,1524 L1054.4,1492 L1055.7,1454.5 L1056.6,1342 L1057.4,1455.2 L1058.6,1493 L1060,1542 L1060.9,1532.2 L1061.6,1503 L1062.6,1559.2 L1064.4,1578 L1065.3,1569.5 L1066,1544 L1067,1601 L1069.4,1620 L1071,1552 L1073,1590 L1075.6,1536 L1077.6,1584 L1079,1530 L1081,1565 L1083,1486 L1085,1515 L1086.4,1482 L1087.8,1444.1 L1088.8,1330.4 L1089.7,1442.6 L1091,1480 L1092.4,1510 L1093.6,1482 L1096,1546 L1098,1523 L1099.4,1566 L1101,1524 L1103,1588 L1104.4,1550 L1106,1586 L1107.6,1598 L1109.4,1549 L1111,1581 L1112.4,1542 L1114.4,1577 L1117,1543 L1119,1538 L1120,1483.6 L1120.8,1320.4 L1121.7,1497.1 L1123,1556 L1124.4,1538 L1126,1562 L1128,1553 L1129.4,1604 L1131,1557 L1132.4,1568 L1134,1618 L1135.6,1558 L1137.6,1580 L1139.6,1562 L1141,1546 L1142.4,1558 L1144,1544 L1146,1526 L1147.6,1502 L1149.6,1526 L1151,1496 L1152.3,1450.9 L1153.2,1315.6 L1154.1,1450.9 L1155.4,1496 L1157,1536 L1157.8,1528 L1158.4,1504 L1159.4,1562.5 L1162,1582 L1162.9,1573.5 L1163.6,1548 L1164.6,1601.2 L1166,1619 L1167.6,1578 L1169.4,1580 L1171.6,1611 L1173,1580 L1174.4,1608 L1176,1580 L1178,1590 L1180,1549 L1181.6,1594 L1183,1550 L1184.2,1504.4 L1185,1367.6 L1185.8,1504.4 L1187,1550 L1188.4,1582 L1190,1550 L1192,1590 L1194,1582 L1196.4,1604 L1199.6,1610 L1201,1590 L1203,1588 L1204.4,1629 L1205.6,1574 L1208,1600 L1209,1570 L1211,1546 L1212.4,1556 L1214,1526 L1215.6,1538 L1216.6,1490.2 L1217.4,1346.6 L1218.2,1481.2 L1219.4,1526 L1220.6,1545 L1223,1548 L1224.4,1582 L1226,1588 L1227.6,1570 L1229,1568 L1230.4,1635 L1232,1578 L1233.6,1622 L1235.6,1574 L1237,1612 L1238,1558 L1240,1568 L1242,1554 L1244,1510 L1246,1534 L1247.6,1500 L1248.6,1455.5 L1249.4,1322 L1250.2,1457 L1251.4,1502 L1252.4,1538 L1254.4,1510 L1256.4,1550 L1258,1572 L1259.6,1548 L1261.6,1586 L1263,1554 L1265,1606 L1266,1570 L1268,1631 L1269.4,1570 L1271.6,1574 L1273.6,1606 L1276,1587.5 L1277,1532 L1277.8,1554.5 L1279,1562 L1280.4,1521.6 L1281.4,1400.4 L1282.3,1509.6 L1283.6,1546 L1285,1528 L1287,1526 L1289,1570 L1291,1550 L1292.4,1578 L1293.6,1552 L1295,1612 L1296.4,1550 L1298,1568 L1300.4,1582 L1301.4,1531 L1304,1554 L1305.4,1526 L1308,1488 L1310,1514 L1312,1480 L1312.9,1445.8 L1313.6,1343 L1314.4,1445.8 L1315.6,1480 L1317,1512 L1319,1488 L1320.4,1510 L1322,1538 L1324,1544 L1325.6,1526 L1327,1604 L1328.4,1554 L1331,1552 L1333,1634 L1334.4,1544 L1336.4,1562 L1338.4,1532 L1340.4,1532 L1342.4,1502 L1344,1508 L1345.2,1471.5 L1346,1362 L1346.8,1465.5 L1348,1500 L1349.4,1538 L1351,1506 L1353,1544 L1354.4,1570 L1356.4,1546 L1358,1572 L1360,1562 L1361.4,1594 L1363,1568 L1364.6,1599 L1366,1560 L1368,1562 L1370.4,1618 L1372,1526 L1374.4,1554 L1376,1526 L1377.2,1481.8 L1378,1349.4" fill="none" stroke="#fe0a14" stroke-width="4.1" stroke-linejoin="round" stroke-linecap="round"/><rect x="799.3" y="1215.2" width="643" height="494.8" fill="none" stroke="#000" stroke-width="4.2"/><path d="M799.3,1710v10.0M831.4,1710v5.2M863.6,1710v10.0M895.8,1710v5.2M927.9,1710v10.0M960,1710v5.2M992.2,1710v10.0M1024.3,1710v5.2M1056.5,1710v10.0M1088.7,1710v5.2M1120.8,1710v10.0M1152.9,1710v5.2M1185.1,1710v10.0M1217.2,1710v5.2M1249.4,1710v10.0M1281.5,1710v5.2M1313.7,1710v10.0M1345.8,1710v5.2M1378,1710v10.0M1410.2,1710v5.2M1442.3,1710v10.0M799.3,1215.2h-5.2M799.3,1256.4h-10.0M799.3,1297.7h-5.2M799.3,1338.9h-10.0M799.3,1380.1h-5.2M799.3,1421.4h-10.0M799.3,1462.6h-5.2M799.3,1503.8h-10.0M799.3,1545.1h-5.2M799.3,1586.3h-10.0M799.3,1627.5h-5.2M799.3,1668.8h-10.0M799.3,1710h-5.2" stroke="#000" stroke-width="4.3" fill="none"/><text transform="translate(799.3,1749.2) scale(1,1.045)" font-size="28.5" text-anchor="middle">-2</text><text transform="translate(863.6,1749.2) scale(1,1.045)" font-size="28.5" text-anchor="middle">0</text><text transform="translate(927.9,1749.2) scale(1,1.045)" font-size="28.5" text-anchor="middle">2</text><text transform="translate(992.2,1749.2) scale(1,1.045)" font-size="28.5" text-anchor="middle">4</text><text transform="translate(1056.5,1749.2) scale(1,1.045)" font-size="28.5" text-anchor="middle">6</text><text transform="translate(1120.8,1749.2) scale(1,1.045)" font-size="28.5" text-anchor="middle">8</text><text transform="translate(1185.1,1749.2) scale(1,1.045)" font-size="28.5" text-anchor="middle">10</text><text transform="translate(1249.4,1749.2) scale(1,1.045)" font-size="28.5" text-anchor="middle">12</text><text transform="translate(1313.7,1749.2) scale(1,1.045)" font-size="28.5" text-anchor="middle">14</text><text transform="translate(1378,1749.2) scale(1,1.045)" font-size="28.5" text-anchor="middle">16</text><text transform="translate(1442.3,1749.2) scale(1,1.045)" font-size="28.5" text-anchor="middle">18</text><text transform="translate(782.7,1264.7) scale(1,1.045)" font-size="28.5" text-anchor="end">-3</text><text transform="translate(782.7,1347.2) scale(1,1.045)" font-size="28.5" text-anchor="end">-4</text><text transform="translate(782.7,1429.7) scale(1,1.045)" font-size="28.5" text-anchor="end">-5</text><text transform="translate(782.7,1512.1) scale(1,1.045)" font-size="28.5" text-anchor="end">-6</text><text transform="translate(782.7,1594.6) scale(1,1.045)" font-size="28.5" text-anchor="end">-7</text><text transform="translate(782.7,1677.1) scale(1,1.045)" font-size="28.5" text-anchor="end">-8</text><text transform="translate(827,1259) scale(1,1.03)" font-size="28.5">1.70 mM aspartame</text><text transform="translate(1345,1264.5) scale(1,1.045)" font-size="28.5">70</text><circle cx="1381.8" cy="1239" r="2.95" fill="none" stroke="#000" stroke-width="1.25"/><text transform="translate(1388.6,1264.5) scale(1,1.045)" font-size="28.5">C</text></g>
<g opacity="0.999"><path d="M164.4,1830.4 L164.7,1980.1 L165,2030 L167,2050 L168.4,2080 L169.4,2134 L171,2072 L173.6,2079 L175.6,2066 L177.6,2062 L178.4,2088 L180,2067 L181.6,2076 L182.4,2100 L183.6,2082 L185.4,2133 L187,2094 L188.4,2076 L190,2087 L191.6,2074 L193,2046 L195,2064 L195.9,2019.8 L196.6,1887 L197.2,2020.5 L198,2065 L199.6,2058 L201,2078 L202.6,2099 L204.4,2080 L206,2084 L207.4,2126 L208.6,2083 L210.6,2111 L212,2072 L214,2104 L215,2069 L217,2066 L219,2084 L221,2067 L223.4,2088 L224.6,2060 L226.4,2040 L227.8,1992.9 L228.8,1851.6 L229.6,2025.9 L230.6,2084 L232.4,2060 L234.4,2112 L236,2077 L238.4,2091 L240,2084 L241.6,2065 L243,2083 L244.4,2069 L247,2098 L248,2078 L249.6,2114 L252,2076 L254,2094 L256,2060 L258,2054 L260,2005.3 L261,1859.2 L261.8,2036 L263,2095 L264.6,2065 L266.4,2084 L268,2070 L270.6,2092 L272.4,2075 L274.4,2105 L276,2080 L278.4,2104 L279.6,2071 L281.6,2094 L283,2080 L285,2068 L286.4,2080 L288.4,2099 L290,2078 L291.8,2027.4 L292.8,1875.6 L293.5,2012.4 L294.4,2058 L296,2048 L297,2100 L298,2146 L299.6,2084 L301.6,2112 L303.6,2088 L306,2076 L307,2092 L309,2070 L310.4,2114 L312.4,2078 L314,2094 L316,2123 L317.6,2088 L319.6,2104 L321,2060 L323,2038 L324.4,1991.5 L325.4,1852 L326.1,2030.5 L327,2090 L329,2070 L330.4,2096 L333,2069 L335,2082 L337.6,2067 L340,2105 L341.6,2082 L343.6,2072 L345,2093 L347,2076 L349,2065 L351,2070 L353,2086 L354,2059 L356.2,2027.2 L357.2,1932 L357.8,2013 L358.6,2040 L360.4,2049 L361.6,2080 L363,2094 L364.4,2121 L367,2112 L368.4,2094 L370,2086 L371,2105 L372.4,2075 L375,2118 L377,2072 L378,2096 L380,2111 L382,2075 L384.4,2094 L386,2050 L387.6,2040 L388.6,1994.9 L389.4,1859.6 L390.2,2015.9 L391.4,2068 L393,2092 L395.4,2122 L397.4,2072 L399,2089 L400.4,2078 L402.4,2066 L404,2107 L406,2076 L408,2098 L409.4,2077 L411,2094 L413,2062 L415,2075 L417,2081 L418.6,2062 L420,2058 L420.8,2015.2 L421.4,1887 L422.3,2007.8 L423.6,2048 L427,2072 L428.4,2106 L429.6,2100 L431.4,2187 L432.6,2100 L434,2084 L435.6,2102 L437.6,2072 L439,2092 L441,2065 L442.4,2094 L444.4,2072 L446,2096 L447.6,2072 L449,2095 L451,2050 L452.6,2009.1 L453.6,1886.4 L454.4,2009.1 L455.6,2050 L456.4,2100 L457.6,2145 L459,2099 L460.4,2072 L462.4,2070 L464,2082 L466.6,2067 L468.4,2095 L470,2075 L471.6,2103 L473,2078 L474.4,2100 L476,2080 L477.6,2068 L479.4,2117 L481.6,2115 L482.4,2065 L484,2080 L484.9,2029.1 L485.6,1876.4 L486.6,2005.8 L488,2049 L489.6,2080 L491,2108 L493,2117 L495,2123 L497,2118 L498.4,2070 L501,2084 L503,2066 L505.6,2080 L507,2065 L508.4,2086 L510.4,2075 L512.4,2096 L514.4,2100 L515.6,2060 L517,2026.6 L518,1926.4 L518.7,2033.3 L519.6,2069 L522,2088 L523.6,2141 L525,2084 L526.4,2072 L528,2087 L530,2088 L531,2070 L533,2086 L534.4,2071 L535.6,2112 L537,2078 L539,2082 L541,2112 L542,2090 L544.6,2163 L546,2100 L547,2055 L548.4,2074 L549.3,2027.4 L550,1887.6 L550.7,2013.9 L551.6,2056 L552.4,2088 L554.4,2100 L556,2110 L557.6,2078 L560,2074 L561.6,2084 L563,2060 L564.4,2087 L566,2066 L568,2087 L569.4,2067 L571.6,2083 L573,2067 L575,2066 L577,2080 L579,2100 L580.4,2066 L581.6,2034.3 L582.4,1939.4 L583.2,2029.8 L584.4,2060 L587,2067 L588,2119 L590,2088 L592,2104 L593.6,2086 L595,2072 L598,2069 L600,2100 L601.6,2072 L603.6,2084 L605.6,2211 L607,2104 L609,2094 L610.6,2092 L611.6,2038 L613.2,2014.4 L614.2,1943.6 L614.8,2030.9 L615.6,2060 L616.4,2117 L618,2076 L620,2088 L621.6,2060 L623.6,2074 L625,2067 L627.4,2060 L629,2089 L630.4,2066 L632.4,2083 L634.4,2067 L636,2083 L638.4,2066 L640,2092 L642,2091 L644,2080 L645.6,2048.1 L646.6,1952.4 L647.4,2045.1 L648.4,2076 L649,2102 L650.6,2077 L652.4,2139 L654,2090 L656,2099 L658,2088 L659.4,2067 L661,2093 L663,2066 L664.4,2090 L666,2066 L667.6,2088 L669.6,2098 L670.4,2070 L672.4,2084 L674,2068 L676,2056 L677.4,2046 L678.8,2057 L678.8,2022.7 L678.8,1919.6" fill="none" stroke="#fe0a14" stroke-width="4.1" stroke-linejoin="round" stroke-linecap="round"/><rect x="100.1" y="1774.1" width="642.9" height="494.9" fill="none" stroke="#000" stroke-width="4.2"/><path d="M100.1,2269v10.0M132.2,2269v5.2M164.4,2269v10.0M196.5,2269v5.2M228.7,2269v10.0M260.8,2269v5.2M293,2269v10.0M325.1,2269v5.2M357.3,2269v10.0M389.4,2269v5.2M421.5,2269v10.0M453.7,2269v5.2M485.8,2269v10.0M518,2269v5.2M550.1,2269v10.0M582.3,2269v5.2M614.4,2269v10.0M646.6,2269v5.2M678.7,2269v10.0M710.9,2269v5.2M743,2269v10.0M100.1,1774.1h-5.2M100.1,1809.4h-10.0M100.1,1844.8h-5.2M100.1,1880.1h-10.0M100.1,1915.5h-5.2M100.1,1950.8h-10.0M100.1,1986.2h-5.2M100.1,2021.5h-10.0M100.1,2056.9h-5.2M100.1,2092.2h-10.0M100.1,2127.6h-5.2M100.1,2162.9h-10.0M100.1,2198.3h-5.2M100.1,2233.7h-10.0M100.1,2269h-5.2" stroke="#000" stroke-width="4.3" fill="none"/><text transform="translate(100.1,2308.2) scale(1,1.045)" font-size="28.5" text-anchor="middle">-2</text><text transform="translate(164.4,2308.2) scale(1,1.045)" font-size="28.5" text-anchor="middle">0</text><text transform="translate(228.7,2308.2) scale(1,1.045)" font-size="28.5" text-anchor="middle">2</text><text transform="translate(293,2308.2) scale(1,1.045)" font-size="28.5" text-anchor="middle">4</text><text transform="translate(357.3,2308.2) scale(1,1.045)" font-size="28.5" text-anchor="middle">6</text><text transform="translate(421.5,2308.2) scale(1,1.045)" font-size="28.5" text-anchor="middle">8</text><text transform="translate(485.8,2308.2) scale(1,1.045)" font-size="28.5" text-anchor="middle">10</text><text transform="translate(550.1,2308.2) scale(1,1.045)" font-size="28.5" text-anchor="middle">12</text><text transform="translate(614.4,2308.2) scale(1,1.045)" font-size="28.5" text-anchor="middle">14</text><text transform="translate(678.7,2308.2) scale(1,1.045)" font-size="28.5" text-anchor="middle">16</text><text transform="translate(743,2308.2) scale(1,1.045)" font-size="28.5" text-anchor="middle">18</text><text transform="translate(83.5,1817.7) scale(1,1.045)" font-size="28.5" text-anchor="end">-3</text><text transform="translate(83.5,1888.4) scale(1,1.045)" font-size="28.5" text-anchor="end">-4</text><text transform="translate(83.5,1959.1) scale(1,1.045)" font-size="28.5" text-anchor="end">-5</text><text transform="translate(83.5,2029.8) scale(1,1.045)" font-size="28.5" text-anchor="end">-6</text><text transform="translate(83.5,2100.6) scale(1,1.045)" font-size="28.5" text-anchor="end">-7</text><text transform="translate(83.5,2171.2) scale(1,1.045)" font-size="28.5" text-anchor="end">-8</text><text transform="translate(83.5,2242) scale(1,1.045)" font-size="28.5" text-anchor="end">-9</text><text transform="translate(125.5,1813.3) scale(1,1.03)" font-size="28.5">1.70 mM aspartame</text><text transform="translate(646.4,1833) scale(1,1.045)" font-size="28.5">80</text><circle cx="683.2" cy="1807.5" r="2.95" fill="none" stroke="#000" stroke-width="1.25"/><text transform="translate(690,1833) scale(1,1.045)" font-size="28.5">C</text><text x="306.4" y="2352" font-size="33.2">frequency (Hz)</text><g transform="translate(38.4,2161.2) rotate(-90)"><text x="0" y="0" font-size="33">log</text><text x="60.6" y="0" font-size="33" font-style="italic">i</text><text x="68.7" y="7.7" font-size="34.4">corr</text><text x="143.6" y="0" font-size="33">(</text><text x="156.4" y="0" font-size="33">A</text><text x="189.6" y="0" font-size="33">c</text><text x="209.3" y="0" font-size="33">m</text><text x="238.6" y="-10" font-size="33">-2</text><text x="269.4" y="0" font-size="33">)</text></g></g>
<g opacity="0.999"><path d="M863.6,1891.6 L863.9,1983.4 L864.4,2014 L865.6,2036 L867,2020 L868.4,2056 L870.4,2043 L871.6,2080 L873.6,2060 L875,2061 L876.6,2105 L878.4,2088 L880.4,2079 L882,2086 L883,2102 L885.4,2077 L887,2116 L888.4,2078 L890.4,2106 L892,2079 L893.6,2096 L895,2040.8 L896,1875 L896.7,2046.8 L897.6,2104 L899,2088 L901,2091 L902.4,2116 L904,2092 L906,2128 L907.6,2078 L910,2118 L912,2100 L915,2080 L917,2094 L918,2112 L920.4,2122 L922.4,2100 L924.4,2122 L926.4,2100 L927.4,2033.6 L928.2,1834.4 L928.8,2063.6 L929.6,2140 L931.6,2140 L933,2096 L934.6,2084 L936.4,2112 L937.6,2086 L939,2128 L940.4,2082 L942,2100 L943,2072 L945,2094 L947,2157 L948.4,2071 L950.4,2100 L952.4,2055 L954.4,2069 L956,2044 L958,2060 L959.3,2017.7 L960.2,1890.6 L961.1,1998.2 L962.4,2034 L964.4,2058 L966,2060 L967,2079 L968.4,2112 L969.6,2077 L971,2094 L972.4,2096 L974.4,2120 L976.4,2093 L978,2100 L981,2152 L982.4,2204 L983.6,2120 L985,2100 L987,2142 L988.4,2096 L990.4,2062 L991.4,2020.2 L992.2,1895 L992.8,2047.2 L993.6,2098 L996,2073 L998,2088 L1001,2084 L1003,2102 L1005,2090 L1007,2117 L1008,2102 L1009.6,2138 L1011,2144 L1012.4,2092 L1014.4,2100 L1016,2124 L1018,2162 L1020,2174 L1021,2098 L1022,2075 L1023.6,2014.4 L1024.6,1832.6 L1025.2,2055.7 L1026,2130 L1027.6,2089 L1030,2096 L1032.4,2130 L1034,2112 L1035.6,2134 L1036.4,2091 L1039,2071 L1041,2100 L1043,2122 L1044.4,2075 L1047,2080 L1048.4,2106 L1049.6,2062 L1052,2068 L1053.6,2052 L1055,2070 L1055.9,2027.2 L1056.6,1899 L1057.4,2004.8 L1058.4,2040 L1059.6,2064 L1061.6,2098 L1064,2084 L1066,2144 L1067.6,2116 L1069,2118 L1071.4,2183 L1073,2110 L1075,2137 L1076.4,2092 L1078.6,2090 L1080.4,2130 L1082,2071 L1084.4,2066 L1086,2038 L1087.6,2052 L1088.3,2010.4 L1088.8,1885.6 L1089.6,2010.4 L1090.6,2052 L1092,2040 L1094,2070 L1096,2062 L1099,2080 L1100.4,2118 L1102.4,2084 L1105.4,2166 L1107,2092 L1109,2116 L1110,2092 L1112.4,2132 L1114,2088 L1116.4,2118 L1118,2076 L1119.6,2080 L1120.3,2028.2 L1120.8,1873 L1121.3,2049.2 L1122,2108 L1123.6,2082 L1126,2104 L1127.4,2084 L1129,2142 L1131.6,2146 L1133,2080 L1135,2106 L1137.6,2071 L1140,2115 L1142,2078 L1144.4,2142 L1146,2078 L1148.4,2076 L1150,2058 L1151.6,2080 L1152.5,2027.9 L1153.2,1871.6 L1154.2,2006.9 L1155.6,2052 L1157,2076 L1159,2102 L1161,2134 L1162.4,2092 L1164,2112 L1166,2098 L1168,2140 L1169.6,2145 L1171.6,2102 L1173,2130 L1174.4,2101 L1177,2138 L1179.6,2158 L1181,2108 L1182.4,2077 L1184,2040.8 L1185,1932 L1185.8,2046 L1187,2084 L1189,2094 L1191,2088 L1192.4,2132 L1194.4,2112 L1197,2136 L1199,2112 L1201,2095 L1202,2167 L1203.6,2120 L1205,2104 L1206.4,2144 L1208.4,2145 L1209.6,2085 L1212,2120 L1214,2082 L1216.4,2036 L1217.4,1898 L1218.1,2057 L1219,2110 L1221,2088 L1223,2146 L1225,2149 L1226.4,2096 L1228,2112 L1230,2100 L1231.6,2084 L1233,2132 L1234.4,2086 L1236.4,2116 L1239,2094 L1241,2115 L1242.4,2096 L1245,2084 L1246.4,2066 L1248,2080 L1248.8,2028.6 L1249.4,1874.4 L1250.1,2028.6 L1251,2080 L1252.4,2066 L1254,2088 L1255.6,2116 L1257.4,2135 L1259,2094 L1261,2112 L1263,2132 L1265,2100 L1267,2130 L1268,2106 L1269.4,2166 L1271,2120 L1273,2108 L1274.4,2134 L1276,2096 L1278,2112 L1279.6,2143 L1280.6,2094.5 L1281.4,1949 L1282.3,2083.2 L1283.6,2128 L1285,2100 L1287,2130 L1288,2108 L1289.6,2155 L1291.6,2089 L1293.6,2124 L1295.6,2109 L1297.6,2125 L1299,2106 L1301,2120 L1303,2088 L1305,2109 L1306.4,2076 L1309,2073 L1311,2046 L1312.4,2060 L1313.1,2018.8 L1313.6,1895 L1314.2,2018.8 L1315,2060 L1316.4,2046 L1318.4,2086 L1320,2077 L1321.6,2109 L1324,2077 L1326,2106 L1328,2091 L1330,2106 L1331.6,2091 L1334,2104 L1336,2082 L1337.4,2121 L1339,2088 L1341,2102 L1342.4,2068 L1344.4,2088 L1345.3,2045.8 L1346,1919 L1346.8,2026.2 L1348,2062 L1349.6,2080 L1351.6,2094 L1353,2100 L1353.6,2207 L1355,2130 L1356.4,2154 L1358,2109 L1359.6,2147 L1361,2120 L1363.6,2099 L1365,2128 L1367,2162 L1368.4,2120 L1369.6,2102 L1370.4,2144 L1372,2116 L1374,2094 L1376,2140 L1377.2,2080.2 L1378,1901" fill="none" stroke="#fe0a14" stroke-width="4.1" stroke-linejoin="round" stroke-linecap="round"/><rect x="799.3" y="1774.1" width="643" height="494.9" fill="none" stroke="#000" stroke-width="4.2"/><path d="M799.3,2269v10.0M831.4,2269v5.2M863.6,2269v10.0M895.8,2269v5.2M927.9,2269v10.0M960,2269v5.2M992.2,2269v10.0M1024.3,2269v5.2M1056.5,2269v10.0M1088.7,2269v5.2M1120.8,2269v10.0M1152.9,2269v5.2M1185.1,2269v10.0M1217.2,2269v5.2M1249.4,2269v10.0M1281.5,2269v5.2M1313.7,2269v10.0M1345.8,2269v5.2M1378,2269v10.0M1410.2,2269v5.2M1442.3,2269v10.0M799.3,1774.1h-5.2M799.3,1812.2h-10.0M799.3,1850.2h-5.2M799.3,1888.3h-10.0M799.3,1926.4h-5.2M799.3,1964.4h-10.0M799.3,2002.5h-5.2M799.3,2040.6h-10.0M799.3,2078.7h-5.2M799.3,2116.7h-10.0M799.3,2154.8h-5.2M799.3,2192.9h-10.0M799.3,2230.9h-5.2M799.3,2269h-10.0" stroke="#000" stroke-width="4.3" fill="none"/><text transform="translate(799.3,2308.2) scale(1,1.045)" font-size="28.5" text-anchor="middle">-2</text><text transform="translate(863.6,2308.2) scale(1,1.045)" font-size="28.5" text-anchor="middle">0</text><text transform="translate(927.9,2308.2) scale(1,1.045)" font-size="28.5" text-anchor="middle">2</text><text transform="translate(992.2,2308.2) scale(1,1.045)" font-size="28.5" text-anchor="middle">4</text><text transform="translate(1056.5,2308.2) scale(1,1.045)" font-size="28.5" text-anchor="middle">6</text><text transform="translate(1120.8,2308.2) scale(1,1.045)" font-size="28.5" text-anchor="middle">8</text><text transform="translate(1185.1,2308.2) scale(1,1.045)" font-size="28.5" text-anchor="middle">10</text><text transform="translate(1249.4,2308.2) scale(1,1.045)" font-size="28.5" text-anchor="middle">12</text><text transform="translate(1313.7,2308.2) scale(1,1.045)" font-size="28.5" text-anchor="middle">14</text><text transform="translate(1378,2308.2) scale(1,1.045)" font-size="28.5" text-anchor="middle">16</text><text transform="translate(1442.3,2308.2) scale(1,1.045)" font-size="28.5" text-anchor="middle">18</text><text transform="translate(782.7,1820.5) scale(1,1.045)" font-size="28.5" text-anchor="end">-3</text><text transform="translate(782.7,1896.6) scale(1,1.045)" font-size="28.5" text-anchor="end">-4</text><text transform="translate(782.7,1972.7) scale(1,1.045)" font-size="28.5" text-anchor="end">-5</text><text transform="translate(782.7,2048.9) scale(1,1.045)" font-size="28.5" text-anchor="end">-6</text><text transform="translate(782.7,2125) scale(1,1.045)" font-size="28.5" text-anchor="end">-7</text><text transform="translate(782.7,2201.2) scale(1,1.045)" font-size="28.5" text-anchor="end">-8</text><text transform="translate(782.7,2277.3) scale(1,1.045)" font-size="28.5" text-anchor="end">-9</text><text transform="translate(822.2,1820) scale(1,1.03)" font-size="28.5">1.70 mM aspartame</text><text transform="translate(1340,1832.5) scale(1,1.045)" font-size="28.5">90</text><circle cx="1376.8" cy="1807" r="2.95" fill="none" stroke="#000" stroke-width="1.25"/><text transform="translate(1383.6,1832.5) scale(1,1.045)" font-size="28.5">C</text><text x="1005.8" y="2351.7" font-size="33.2">frequency (Hz)</text></g>
</svg>
</body></html>
